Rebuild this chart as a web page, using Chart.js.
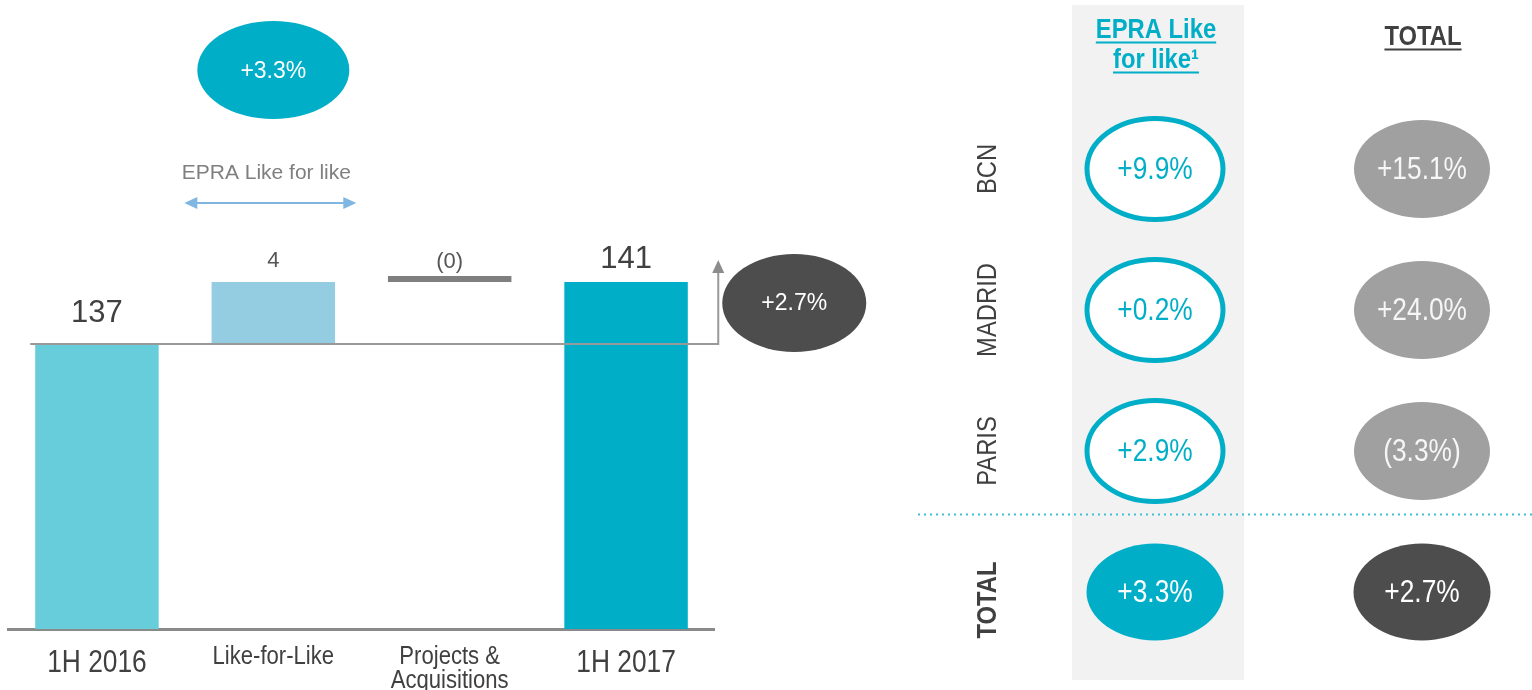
<!DOCTYPE html>
<html>
<head>
<meta charset="utf-8">
<script src="https://cdn.jsdelivr.net/npm/chart.js@4.4.1/dist/chart.umd.min.js"></script>
<style>
  html, body { margin: 0; padding: 0; background: #fff; }
  #wrap { position: relative; width: 1532px; height: 690px; overflow: hidden; }
  #bridge { position: absolute; left: 0; top: 0; }
  #grid { position: absolute; left: 900px; top: 0; }
</style>
</head>
<body>
<div id="wrap">
  <canvas id="bridge" width="900" height="690"></canvas>
  <canvas id="grid" width="632" height="690"></canvas>
</div>
<script>
// Rental income bridge 1H 2016 -> 1H 2017
const bridgeLabels = ['1H 2016', 'Like-for-Like', ['Projects &', 'Acquisitions'], '1H 2017'];
const bridgeSteps = [137, 4, 0, 141];
const bridgeText = ['137', '4', '(0)', '141'];
const bridgeKind = ['total', 'delta', 'delta', 'total'];

const lflGrowth = 3.3;
const totalGrowth = 2.7;
const lflCaption = 'EPRA Like for like';

// growth by city
const cities = ['BCN', 'MADRID', 'PARIS', 'TOTAL'];
const columns = [['EPRA Like', 'for like\u00b9'], ['TOTAL']];
const lflByCity = [9.9, 0.2, 2.9, 3.3];
const totalByCity = [15.1, 24.0, -3.3, 2.7];

const SANS = "'Liberation Sans', Arial, sans-serif";
const SQUEEZE = 0.85;   // condensed lettering
const CYAN = '#00aec7';
const Y_MIN = 118.6, Y_MAX = 159.2;

Chart.defaults.animation = false;
Chart.defaults.font.family = SANS;

function pct(v) {
  return v < 0 ? '(' + Math.abs(v).toFixed(1) + '%)' : '+' + v.toFixed(1) + '%';
}

function ellipse(ctx, x, y, rx, ry) {
  ctx.beginPath();
  ctx.ellipse(x, y, rx, ry, 0, 0, Math.PI * 2);
}

// text squeezed horizontally, optionally turned to read upwards
function narrowText(ctx, text, x, y, upright) {
  ctx.save();
  ctx.translate(x, y);
  if (upright) ctx.rotate(-Math.PI / 2);
  ctx.scale(SQUEEZE, 1);
  ctx.fillText(text, 0, 0);
  ctx.restore();
}

// waterfall: totals start at the axis, movements float on the running total
let running = 0;
const bridgeBars = bridgeSteps.map((v, i) => {
  if (bridgeKind[i] === 'total') { running = v; return [Y_MIN, v]; }
  const from = running;
  running += v;
  return [from, running];
});

const barColors = ['#67cddb', '#94cde1', '#7f7f7f', CYAN];
const labelGap = [22, 15, 8, 14];

const barValueLabels = {
  id: 'barValueLabels',
  afterDatasetsDraw(chart) {
    const { ctx } = chart;
    const meta = chart.getDatasetMeta(0);
    ctx.save();
    ctx.textAlign = 'center';
    ctx.textBaseline = 'alphabetic';
    meta.data.forEach((bar, i) => {
      const top = Math.min(bar.y, bar.base);
      const big = bridgeKind[i] === 'total';
      ctx.font = (big ? '31px ' : '22px ') + SANS;
      ctx.fillStyle = big ? '#404040' : '#555555';
      ctx.fillText(bridgeText[i], bar.x, top - labelGap[i]);
    });
    ctx.restore();
  }
};

// category names under the axis, condensed
const categoryLabels = {
  id: 'categoryLabels',
  afterDraw(chart) {
    const { ctx } = chart;
    const xs = chart.scales.x;
    const axisY = chart.chartArea.bottom;
    ctx.save();
    ctx.textAlign = 'center';
    ctx.textBaseline = 'alphabetic';
    ctx.fillStyle = '#404040';
    bridgeLabels.forEach((label, i) => {
      const x = xs.getPixelForValue(i);
      const lines = Array.isArray(label) ? label : [label];
      const big = bridgeKind[i] === 'total';
      ctx.font = (big ? '31px ' : '26px ') + SANS;
      lines.forEach((t, k) => {
        narrowText(ctx, t, x, axisY + (big ? 43 : 35) + k * 24);
      });
    });
    ctx.restore();
  }
};

const bridgeNotes = {
  id: 'bridgeNotes',
  afterDatasetsDraw(chart) {
    const { ctx, chartArea } = chart;
    const x = chart.scales.x, y = chart.scales.y;
    const first = chart.getDatasetMeta(0).data[0];
    const yStart = y.getPixelForValue(bridgeSteps[0]);
    const yEnd = y.getPixelForValue(bridgeSteps[3]);
    const arrowX = chartArea.right + 4;
    const arrowTop = yEnd - 20;
    ctx.save();

    // reference line at the opening level
    ctx.strokeStyle = '#999999';
    ctx.lineWidth = 2;
    ctx.beginPath();
    ctx.moveTo(first.x - first.width / 2 - 5, yStart);
    ctx.lineTo(arrowX, yStart);
    ctx.lineTo(arrowX, arrowTop + 8);
    ctx.stroke();
    ctx.fillStyle = '#8c8c8c';
    ctx.beginPath();
    ctx.moveTo(arrowX, arrowTop - 2);
    ctx.lineTo(arrowX - 6, arrowTop + 11);
    ctx.lineTo(arrowX + 6, arrowTop + 11);
    ctx.closePath();
    ctx.fill();

    // total growth bubble
    const bx = chartArea.right + 80, by = (yStart + arrowTop) / 2;
    ellipse(ctx, bx, by, 72, 49);
    ctx.fillStyle = '#4d4d4d';
    ctx.fill();
    ctx.fillStyle = '#ffffff';
    ctx.textAlign = 'center';
    ctx.textBaseline = 'middle';
    ctx.font = '23px ' + SANS;
    ctx.fillText(pct(totalGrowth), bx, by + 1);

    // like-for-like growth bubble over its bar
    const lx = x.getPixelForValue(1);
    ellipse(ctx, lx, 70, 76, 49);
    ctx.fillStyle = CYAN;
    ctx.fill();
    ctx.fillStyle = '#ffffff';
    ctx.font = '23px ' + SANS;
    ctx.fillText(pct(lflGrowth), lx, 72);

    ctx.fillStyle = '#7f7f7f';
    ctx.font = '21px ' + SANS;
    ctx.fillText(lflCaption, lx - 7, 173);

    // double-headed span arrow
    const ax0 = lx - 89, ax1 = lx + 83, ay = 203;
    ctx.strokeStyle = '#7fb6e2';
    ctx.fillStyle = '#7fb6e2';
    ctx.lineWidth = 2;
    ctx.beginPath();
    ctx.moveTo(ax0 + 8, ay);
    ctx.lineTo(ax1 - 8, ay);
    ctx.stroke();
    ctx.beginPath();
    ctx.moveTo(ax0, ay); ctx.lineTo(ax0 + 13, ay - 6); ctx.lineTo(ax0 + 13, ay + 6);
    ctx.closePath(); ctx.fill();
    ctx.beginPath();
    ctx.moveTo(ax1, ay); ctx.lineTo(ax1 - 13, ay - 6); ctx.lineTo(ax1 - 13, ay + 6);
    ctx.closePath(); ctx.fill();
    ctx.restore();
  }
};

new Chart(document.getElementById('bridge'), {
  type: 'bar',
  data: {
    labels: bridgeLabels,
    datasets: [{
      data: bridgeBars,
      backgroundColor: barColors,
      borderWidth: 0,
      minBarLength: 6,
      barPercentage: 0.7,
      categoryPercentage: 1
    }]
  },
  options: {
    responsive: false,
    devicePixelRatio: 1,
    layout: { padding: { left: 8.75, right: 185.75, top: 0, bottom: 0 } },
    plugins: { legend: { display: false }, tooltip: { enabled: false } },
    scales: {
      x: {
        grid: { display: false, drawTicks: false },
        border: { display: true, color: '#8a8a8a', width: 3 },
        afterFit: (s) => { s.height = 61; },
        ticks: { display: false }
      },
      y: { display: false, min: Y_MIN, max: Y_MAX }
    }
  },
  plugins: [barValueLabels, categoryLabels, bridgeNotes]
});

// city growth grid: one dataset per column, points placed on linear scales
const cellStyles = [
  { ring: true, fill: '#ffffff', text: CYAN, total: { fill: CYAN, text: '#ffffff' } },
  { ring: false, fill: '#a0a0a0', text: '#f6f6f6', total: { fill: '#4d4d4d', text: '#ffffff' } }
];

const gridDecor = {
  id: 'gridDecor',
  beforeDatasetsDraw(chart) {
    const { ctx } = chart;
    const cx = chart.scales.x.getPixelForValue(0);
    ctx.save();
    ctx.fillStyle = '#f2f2f2';
    ctx.fillRect(cx - 83, 5, 172, 675);
    ctx.restore();
  },
  afterDatasetsDraw(chart) {
    const { ctx } = chart;
    const xs = chart.scales.x, ys = chart.scales.y;
    ctx.save();
    ctx.textAlign = 'center';
    ctx.textBaseline = 'middle';

    // column headers, underlined
    const headColors = [CYAN, '#404040'];
    const headTop = [30, 37];
    columns.forEach((lines, c) => {
      const x = xs.getPixelForValue(c) + 1;
      ctx.font = 'bold 28px ' + SANS;
      ctx.fillStyle = headColors[c];
      ctx.strokeStyle = headColors[c];
      ctx.lineWidth = 2;
      lines.forEach((t, k) => {
        const y = headTop[c] + k * 30;
        narrowText(ctx, t, x, y);
        const w = ctx.measureText(t).width * SQUEEZE;
        ctx.beginPath();
        ctx.moveTo(x - w / 2, y + 12.5);
        ctx.lineTo(x + w / 2, y + 12.5);
        ctx.stroke();
      });
    });

    // row labels, reading upwards
    cities.forEach((name, r) => {
      const y = ys.getPixelForValue(r);
      const last = r === cities.length - 1;
      ctx.font = (last ? 'bold 28px ' : '28px ') + SANS;
      ctx.fillStyle = '#404040';
      narrowText(ctx, name, 88, y + (last ? 8 : 0), true);
    });

    // dotted separator above the total row
    const sepY = (ys.getPixelForValue(2) + ys.getPixelForValue(3)) / 2 - 7;
    ctx.strokeStyle = '#3fbfd2';
    ctx.lineWidth = 2;
    ctx.setLineDash([2, 4]);
    ctx.beginPath();
    ctx.moveTo(18, sepY);
    ctx.lineTo(chart.width, sepY);
    ctx.stroke();
    ctx.setLineDash([]);

    // growth bubbles
    chart.data.datasets.forEach((ds, c) => {
      const st = cellStyles[c];
      chart.getDatasetMeta(c).data.forEach((pt, r) => {
        const last = r === cities.length - 1;
        if (last) {
          ellipse(ctx, pt.x, pt.y, 68.5, 48.5);
          ctx.fillStyle = st.total.fill;
          ctx.fill();
          ctx.fillStyle = st.total.text;
        } else if (st.ring) {
          ellipse(ctx, pt.x, pt.y, 68, 50.5);
          ctx.fillStyle = st.fill;
          ctx.fill();
          ctx.strokeStyle = CYAN;
          ctx.lineWidth = 5;
          ctx.stroke();
          ctx.fillStyle = st.text;
        } else {
          ellipse(ctx, pt.x, pt.y, 68, 49);
          ctx.fillStyle = st.fill;
          ctx.fill();
          ctx.fillStyle = st.text;
        }
        ctx.font = '31px ' + SANS;
        narrowText(ctx, pct(ds.data[r].v), pt.x, pt.y + 1);
      });
    });
    ctx.restore();
  }
};

const toPoints = (vals, c) => vals.map((v, r) => ({ x: c, y: r, v }));

new Chart(document.getElementById('grid'), {
  type: 'scatter',
  data: {
    datasets: [
      { data: toPoints(lflByCity, 0), pointRadius: 0 },
      { data: toPoints(totalByCity, 1), pointRadius: 0 }
    ]
  },
  options: {
    responsive: false,
    devicePixelRatio: 1,
    layout: { padding: { left: 255, right: 110, top: 169, bottom: 98 } },
    plugins: { legend: { display: false }, tooltip: { enabled: false } },
    scales: {
      x: { type: 'linear', display: false, min: 0, max: columns.length - 1 },
      y: { type: 'linear', display: false, reverse: true, min: 0, max: cities.length - 1 }
    }
  },
  plugins: [gridDecor]
});
</script>
</body>
</html>
